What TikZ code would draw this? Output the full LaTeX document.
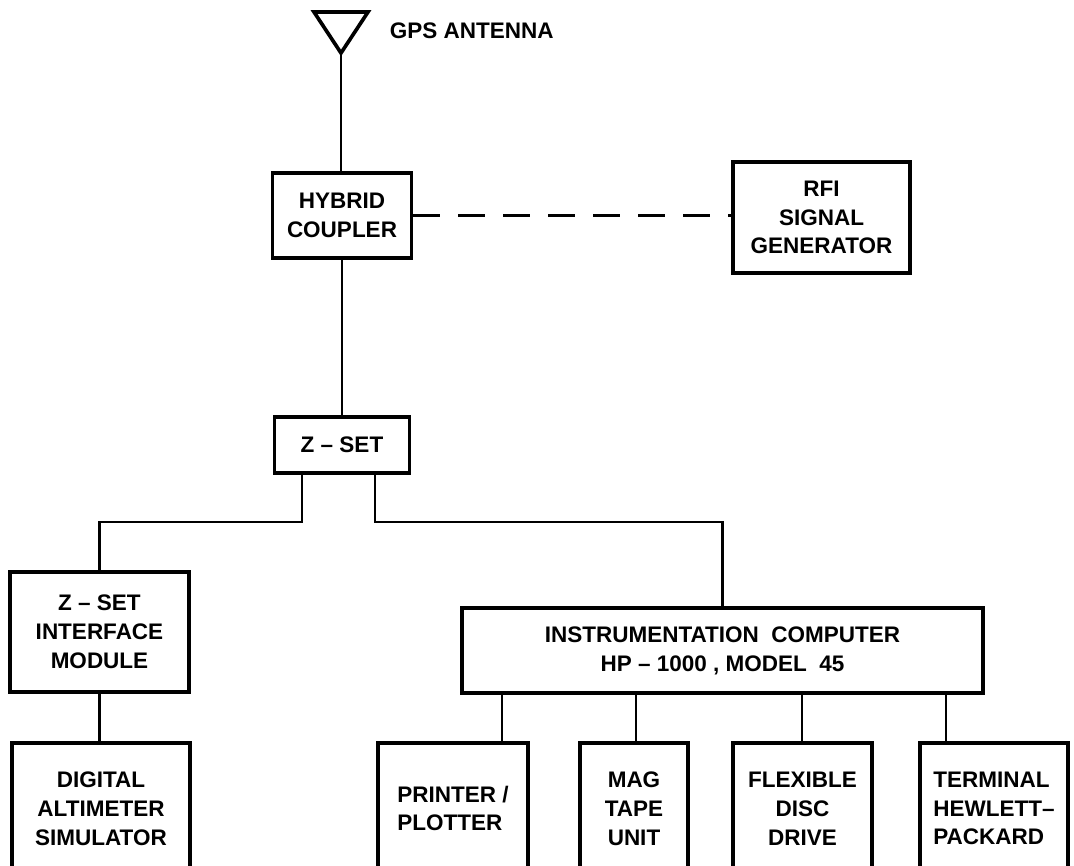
\documentclass[tikz,border=0pt]{standalone}
\usepackage{fontspec}
\setmainfont{Liberation Sans}
\usepackage{tikz}
\usetikzlibrary{positioning}
\tikzset{
    block/.style={rectangle, draw=black, line width=2.6pt, fill=white, align=center, inner sep=0pt, font=\fontsize{16}{20.5}\selectfont\bfseries},
    unit/.style={block, minimum height=3.275cm},
    wire/.style={line width=1.8pt},
    rfline/.style={line width=1.6pt, dash pattern=on 19pt off 13pt}
}

\begin{document}
\begin{tikzpicture}[x=0.025cm, y=-0.025cm]
    \useasboundingbox (0,0) rectangle (1074,866);
    \clip (0,0) rectangle (1074,866);

    % antenna
    \coordinate (antenna) at (341,53);
    \draw [line width=2.6pt, line join=miter] (antenna) -- ++(-27,-41) -- ++(54,0) -- cycle;
    \node (gps) [anchor=base west, font=\fontsize{16}{20}\selectfont\bfseries] at (385,39) {GPS ANTENNA};

    \node (coupler) [block, minimum width=3.475cm, minimum height=2.125cm] at (342,215.5) {HYBRID\\COUPLER};
    \node (rfi) [block, minimum width=4.425cm, minimum height=2.775cm] at (821.5,217.5) {RFI\\SIGNAL\\GENERATOR};
    \node (zset) [block, minimum width=3.375cm, minimum height=1.4cm] at (342,445) {Z \textendash{} SET};
    \node (zsetif) [block, minimum width=4.475cm, minimum height=3cm] at (99.5,632) {Z \textendash{} SET\\INTERFACE\\MODULE};
    \node (altimeter) [unit, minimum width=4.45cm] at (101,808.5) {DIGITAL\\ALTIMETER\\SIMULATOR};
    \node (computer) [block, minimum width=13.025cm, minimum height=2.125cm] at (722.5,650.5) {INSTRUMENTATION \ COMPUTER\\HP \textendash{} 1000 , MODEL \ 45};
    \node (printer) [unit, minimum width=3.75cm, align=left] at (453,808.5) {PRINTER /\\PLOTTER};
    \node (magtape) [unit, minimum width=2.7cm] at (634,808.5) {MAG\\TAPE\\UNIT};
    \node (disc) [unit, minimum width=3.475cm] at (802.5,808.5) {FLEXIBLE\\DISC\\DRIVE};
    \node (terminal) [unit, minimum width=3.7cm, align=left] at (994,808.5) {TERMINAL\\HEWLETT\textendash\\PACKARD};

    % connections
    \draw [wire] (antenna) -- (antenna |- coupler.north);
    \draw [wire] (coupler.south) -- (zset.north);
    \draw [rfline] (coupler.east) -- (coupler.east -| rfi.west);

    \coordinate (zleft) at (302,522);
    \coordinate (zright) at (375,522);
    \draw [wire] (zleft |- zset.south) -- (zleft) -| (zsetif.north);
    \draw [wire] (zright |- zset.south) -- (zright) -| (computer.north);
    \draw [wire] (zsetif.south) -- (zsetif.south |- altimeter.north);

    \foreach \n/\x in {printer/502, magtape/636, disc/802, terminal/946}
        \draw [wire] (computer.south -| \x,0) -- (\n.north -| \x,0);
\end{tikzpicture}
\end{document}
